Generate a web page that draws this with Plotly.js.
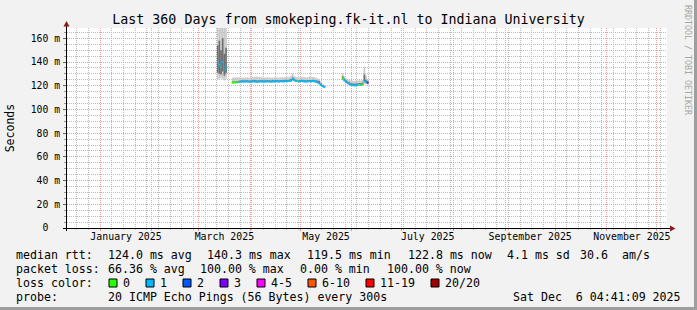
<!DOCTYPE html>
<html><head><meta charset="utf-8">
<script src="https://cdn.plot.ly/plotly-3.0.1.min.js"></script>
<style>html,body{margin:0;padding:0;background:#f2f2f2;overflow:hidden}#chart{width:697px;height:310px}</style>
</head><body><div id="chart"></div>
<script>
// ---------- data ----------
const days = [
 '2025-03-12','2025-03-13','2025-03-14','2025-03-15','2025-03-16','2025-03-17',
 '2025-03-21','2025-03-22','2025-03-23','2025-03-24','2025-03-25','2025-03-26','2025-03-27','2025-03-28','2025-03-29','2025-03-30','2025-03-31',
 '2025-04-01','2025-04-02','2025-04-03','2025-04-04','2025-04-05','2025-04-06','2025-04-07','2025-04-08','2025-04-09','2025-04-10',
 '2025-04-11','2025-04-12','2025-04-13','2025-04-14','2025-04-15','2025-04-16','2025-04-17','2025-04-18','2025-04-19','2025-04-20',
 '2025-04-21','2025-04-22','2025-04-23','2025-04-24','2025-04-25','2025-04-26','2025-04-27','2025-04-28','2025-04-29','2025-04-30',
 '2025-05-01','2025-05-02','2025-05-03','2025-05-04','2025-05-05','2025-05-06','2025-05-07','2025-05-08','2025-05-09','2025-05-10',
 '2025-05-11','2025-05-12','2025-05-13','2025-05-14','2025-05-15',
 '2025-05-26','2025-05-27','2025-05-28','2025-05-29','2025-05-30','2025-05-31',
 '2025-06-01','2025-06-02','2025-06-03','2025-06-04','2025-06-05','2025-06-06','2025-06-07','2025-06-08','2025-06-09','2025-06-10'
];
const median = [
 140.5,137.8,136.2,140.0,133.9,136.5,
 122.6,122.8,122.7,123.0,123.2,123.4,123.5,123.4,123.6,123.5,123.3,
 123.4,123.6,123.5,123.4,123.3,123.5,123.6,123.5,123.4,123.6,
 123.7,123.5,123.4,123.6,123.5,123.7,123.6,123.5,123.8,123.6,
 123.7,123.9,123.8,124.0,124.3,125.4,124.6,123.9,123.8,123.7,
 123.9,123.8,123.6,123.5,123.7,123.8,123.6,123.9,123.7,123.4,
 122.8,122.0,120.6,119.6,118.9,
 126.0,124.5,123.2,122.3,121.4,120.8,
 120.5,120.3,120.4,120.6,120.9,120.8,121.0,123.8,123.0,122.5
];
const lostPings = [
 1,1,1,1,1,1,
 0,0,0,0,1,1,1,1,1,1,1,
 1,1,1,1,1,1,1,1,1,1,
 1,1,1,1,1,1,1,1,1,1,
 1,1,1,1,1,1,1,1,0,1,
 1,1,1,1,1,1,1,1,1,1,
 1,1,1,1,1,
 0,1,1,1,1,1,
 1,1,1,1,0,1,0,1,1,3
];
const smokeMin = [
 126.0,124.8,126.5,125.5,124.5,125.8,
 121.9,122.1,122.0,122.3,122.5,122.7,122.8,122.7,122.9,122.8,122.6,
 122.7,122.9,122.8,122.7,122.6,122.8,122.9,122.8,122.7,122.9,
 123.0,122.8,122.7,122.9,122.8,123.0,122.9,122.8,123.1,122.9,
 123.0,123.2,123.1,123.3,123.5,124.2,123.8,123.2,123.1,123.0,
 123.2,123.1,122.9,122.8,123.0,123.1,122.9,123.2,123.0,122.6,
 121.9,121.0,119.8,118.9,118.1,
 124.8,123.5,122.2,121.3,120.5,120.0,
 119.6,119.5,119.6,119.8,120.1,120.0,120.2,121.8,121.6,121.2
];
const smokeQ1 = [
 131.0,130.0,129.5,132.0,128.5,130.5,
 122.3,122.5,122.4,122.7,122.9,123.1,123.2,123.1,123.3,123.2,123.0,
 123.1,123.3,123.2,123.1,123.0,123.2,123.3,123.2,123.1,123.3,
 123.4,123.2,123.1,123.3,123.2,123.4,123.3,123.2,123.5,123.3,
 123.4,123.6,123.5,123.7,124.0,124.9,124.2,123.6,123.5,123.4,
 123.6,123.5,123.3,123.2,123.4,123.5,123.3,123.6,123.4,123.1,
 122.3,121.5,120.2,119.3,118.6,
 125.5,124.1,122.8,121.9,121.0,120.4,
 120.1,119.9,120.0,120.2,120.5,120.4,120.6,123.0,122.5,122.0
];
const smokeQ3 = [
 154.0,158.0,150.0,160.0,147.0,152.0,
 123.5,123.7,123.6,124.0,124.2,124.5,124.6,124.4,124.7,124.5,124.3,
 124.4,124.7,124.8,124.7,124.5,124.6,124.7,124.5,124.4,124.6,
 124.8,124.5,124.4,124.7,124.5,124.8,124.6,124.5,124.9,124.6,
 124.8,125.0,124.9,125.2,125.7,127.0,125.9,125.0,124.8,124.7,
 125.0,124.9,124.6,124.5,124.8,124.9,124.6,125.0,124.8,124.5,
 124.4,124.0,121.8,120.6,119.8,
 128.0,126.0,124.6,123.6,122.8,122.2,
 121.9,121.7,121.8,122.0,122.3,122.2,122.5,129.5,125.0,123.8
];
const smokeMax = [
 176.0,176.0,176.0,176.0,176.0,174.0,
 126.8,127.0,127.2,126.9,127.1,126.8,127.0,126.7,127.2,127.0,126.8,
 126.9,127.3,127.6,127.8,127.5,127.4,127.2,126.9,126.8,127.0,
 127.1,126.9,126.7,127.0,126.8,127.1,127.0,126.8,127.2,127.0,
 127.1,127.3,127.2,127.5,128.4,130.2,128.3,127.4,127.1,127.0,
 127.3,127.4,127.2,127.0,127.3,127.5,127.2,127.4,127.1,126.8,
 126.2,125.4,122.8,121.6,120.6,
 130.5,128.0,126.5,125.8,125.0,124.5,
 124.2,124.0,124.1,124.3,124.6,124.5,125.0,136.0,128.5,125.5
];

const monthLabelDates = ['2025-01-16 12:00','2025-03-16 12:00','2025-05-16 12:00','2025-07-16 12:00','2025-09-16','2025-11-16'];
const monthLabels = ['January 2025','March 2025','May 2025','July 2025','September 2025','November 2025'];
const yTickVals = [0,20,40,60,80,100,120,140,160];
const yTickText = ['0\u00a0\u00a0','20 m','40 m','60 m','80 m','100 m','120 m','140 m','160 m'];

const lossLabels = ['0','1','2','3','4-5','6-10','11-19','20/20'];
const lossMaxOfBin = [0,1,2,3,5,10,19,20];
const lossColors = ['#26ff00','#00b8ff','#0059ff','#7e00ff','#ff00ff','#ff5500','#ff0000','#a10000'];

const rttTitle = 'median rtt:';
const rttStats = ['124.0 ms avg','140.3 ms max','119.5 ms min','122.8 ms now','4.1 ms sd','30.6','am/s'];
const lossTitle = 'packet loss:';
const lossStats = ['66.36 % avg','100.00 % max','0.00 % min','100.00 % now'];
const colorTitle = 'loss color:';
const probeTitle = 'probe:';
const probeText = '20 ICMP Echo Pings (56 Bytes) every 300s';
const stampText = 'Sat Dec \u00a06 04:41:09 2025';
const titleText = 'Last 360 Days from smokeping.fk-it.nl to Indiana University';
const xRange = ['2024-12-12 02:00','2025-12-07 02:00'];
const yRange = [0,168.7];

// ---------- drawing ----------
const DAY = 86400000;
const FONT = 'DejaVu Sans Mono';
const L = 67, T = 28, W = 600, H = 200;
const px = x => (x - L) / W;
const py = y => (T + H - y) / H;
const colorFor = n => lossColors[lossMaxOfBin.findIndex(m => n <= m)];
const MEDIAN_THICK = 1.7;

const traces = [
  {type:'bar', x:days, base:smokeMin, y:smokeMax.map((v,i)=>v-smokeMin[i]), width:DAY, offset:0,
   marker:{color:'#c9c9c9', line:{width:0}}, hoverinfo:'skip'},
  {type:'bar', x:days, base:smokeQ1, y:smokeQ3.map((v,i)=>v-smokeQ1[i]), width:DAY, offset:0,
   marker:{color:'#6e6e6e', line:{width:0}}, hoverinfo:'skip'},
  {type:'bar', x:days, base:median.map(v=>v-MEDIAN_THICK/2), y:median.map(()=>MEDIAN_THICK), width:DAY, offset:0,
   marker:{color:lostPings.map(colorFor), line:{width:0}}, hoverinfo:'skip'},
  {type:'scatter', mode:'markers', x:monthLabelDates, y:monthLabelDates.map(()=>null), xaxis:'x2', hoverinfo:'skip', showlegend:false}
];

const ann = [];
const txt = (x, y, text, opts={}) => ann.push(Object.assign({xref:'paper', yref:'paper', x:px(x), y:py(y), text,
  xanchor:'left', yanchor:'middle', showarrow:false, borderpad:0, borderwidth:0,
  font:{family:FONT, size:11.6, color:'#000'}}, opts));

txt(16, 255, rttTitle);
[107.6, 207.1, 306.7, 407.6, 507, 580, 622].forEach((x,i)=>txt(x, 255, rttStats[i]));
txt(16, 269, lossTitle);
[107.6, 200.4, 300.4, 386.7].forEach((x,i)=>txt(x, 269, lossStats[i]));
txt(16, 283, colorTitle);
txt(16, 297, probeTitle);
txt(107.6, 297, probeText);
txt(513.3, 297, stampText);
// axis title & watermark
txt(10.3, 128, 'Seconds', {xanchor:'center', textangle:-90, font:{family:FONT, size:11.5, color:'#000'}});
txt(688, 60, 'RRDTOOL / TOBI OETIKER', {xanchor:'center', textangle:90, font:{family:FONT, size:8.3, color:'#a6a6a6'}});

const shapes = [];
// loss colour swatches
let sx = 109;
lossLabels.forEach((lab, i) => {
  shapes.push({type:'rect', xref:'paper', yref:'paper', x0:px(sx), x1:px(sx+8), y0:py(287), y1:py(279),
    fillcolor:lossColors[i], line:{color:'#000', width:1}});
  txt(sx+14, 283, lab);
  sx += 14 + lab.length*7 + 16;
});
// axis extensions
const line = (x0,y0,x1,y1,c='#000') => shapes.push({type:'line', xref:'paper', yref:'paper', x0:px(x0), y0:py(y0), x1:px(x1), y1:py(y1), line:{color:c, width:1}});
line(63, 228.5, 67, 228.5); line(667, 228.5, 671, 228.5);
line(66.5, 28, 66.5, 25); line(66.5, 229, 66.5, 231);
// arrows
shapes.push({type:'path', xref:'paper', yref:'paper', path:`M${px(66.5)},${py(21)} L${px(63.5)},${py(26.5)} L${px(69.5)},${py(26.5)} Z`, fillcolor:'#8b1a1a', line:{width:0}});
shapes.push({type:'path', xref:'paper', yref:'paper', path:`M${px(675.5)},${py(228.5)} L${px(670)},${py(225.5)} L${px(670)},${py(231.5)} Z`, fillcolor:'#8b1a1a', line:{width:0}});
// frame shading
shapes.push({type:'rect', xref:'paper', yref:'paper', x0:px(694), x1:px(697), y0:py(310), y1:py(0), fillcolor:'#9e9e9e', line:{width:0}});
shapes.push({type:'rect', xref:'paper', yref:'paper', x0:px(0), x1:px(697), y0:py(310), y1:py(307), fillcolor:'#9e9e9e', line:{width:0}});

const layout = {
  width:697, height:310, margin:{l:L, r:697-L-W, t:T, b:310-T-H},
  paper_bgcolor:'#f2f2f2', plot_bgcolor:'#ffffff', showlegend:false, barmode:'overlay',
  title:{text:titleText, font:{family:FONT, size:13.3, color:'#000'}, xref:'container', x:0.5, xanchor:'center', yref:'container', y:1-19.5/310, yanchor:'middle'},
  xaxis:{type:'date', range:xRange, tickmode:'linear', tick0:'2025-01-01', dtick:'M1', showticklabels:false,
    showgrid:true, gridcolor:'#f0a0a0', griddash:'1px,1px', gridwidth:1,
    ticks:'outside', ticklen:2, tickcolor:'#e09090',
    showline:true, linecolor:'#000', linewidth:1, zeroline:false, fixedrange:true,
    minor:{tickmode:'linear', dtick:7*DAY, tick0:'2025-01-01', showgrid:true, gridcolor:'#bcbcbc', griddash:'1px,1px', gridwidth:1, ticks:'outside', ticklen:1, tickcolor:'#c0c0c0'}},
  xaxis2:{type:'date', overlaying:'x', anchor:'y', side:'bottom', range:xRange, tickmode:'array', tickvals:monthLabelDates, ticktext:monthLabels,
    showgrid:false, ticks:'', showline:false, zeroline:false, fixedrange:true, ticklabelstandoff:1,
    tickfont:{family:FONT, size:9.9, color:'#000'}},
  yaxis:{range:yRange, tickmode:'array', tickvals:yTickVals, ticktext:yTickText,
    showgrid:true, gridcolor:'#f0a0a0', griddash:'1px,1px', gridwidth:1,
    ticks:'outside', ticklen:3, tickcolor:'#666', ticklabelstandoff:1,
    showline:true, linecolor:'#000', linewidth:1, zeroline:false, fixedrange:true,
    tickfont:{family:FONT, size:9.75, color:'#000'},
    minor:{tickmode:'linear', dtick:5, tick0:0, showgrid:true, gridcolor:'#bcbcbc', griddash:'1px,1px', gridwidth:1, ticks:'outside', ticklen:2, tickcolor:'#999'}},
  annotations:ann, shapes:shapes
};

Plotly.newPlot('chart', traces, layout, {staticPlot:true, displayModeBar:false});
</script>
</body></html>
